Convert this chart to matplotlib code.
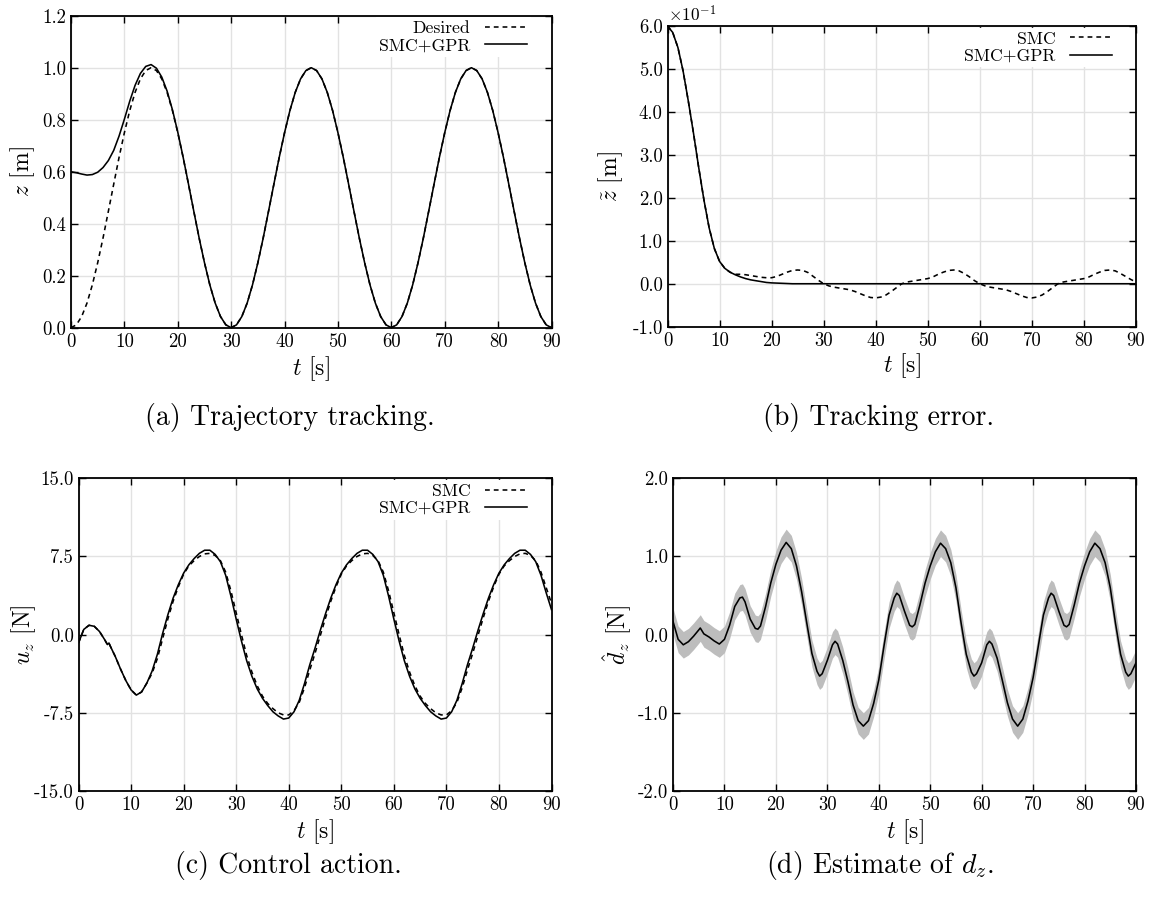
import numpy as np
import matplotlib
matplotlib.use("Agg")
import matplotlib.pyplot as plt

plt.rcParams['font.family'] = 'serif'
plt.rcParams['font.serif'] = ['cmr10']
plt.rcParams['mathtext.fontset'] = 'cm'
plt.rcParams['axes.unicode_minus'] = False

# time axis (s)
t_sec = list(range(0, 91))

# (a) trajectory tracking
z_des = [0.000, 0.011, 0.043, 0.095, 0.165, 0.250, 0.345, 0.448, 0.552, 0.655,
         0.750, 0.835, 0.905, 0.957, 0.989, 1.000, 0.989, 0.957, 0.905, 0.835,
         0.750, 0.655, 0.552, 0.448, 0.345, 0.250, 0.165, 0.095, 0.043, 0.011,
         0.000, 0.011, 0.043, 0.095, 0.165, 0.250, 0.345, 0.448, 0.552, 0.655,
         0.750, 0.835, 0.905, 0.957, 0.989, 1.000, 0.989, 0.957, 0.905, 0.835,
         0.750, 0.655, 0.552, 0.448, 0.345, 0.250, 0.165, 0.095, 0.043, 0.011,
         0.000, 0.011, 0.043, 0.095, 0.165, 0.250, 0.345, 0.448, 0.552, 0.655,
         0.750, 0.835, 0.905, 0.957, 0.989, 1.000, 0.989, 0.957, 0.905, 0.835,
         0.750, 0.655, 0.552, 0.448, 0.345, 0.250, 0.165, 0.095, 0.043, 0.011,
         0.000]
z_gpr = [0.600, 0.596, 0.591, 0.587, 0.589, 0.598, 0.616, 0.643, 0.682, 0.737,
         0.802, 0.871, 0.932, 0.978, 1.005, 1.012, 0.998, 0.964, 0.910, 0.838,
         0.752, 0.656, 0.553, 0.448, 0.345, 0.250, 0.165, 0.095, 0.043, 0.011,
         0.000, 0.011, 0.043, 0.095, 0.165, 0.250, 0.345, 0.448, 0.552, 0.655,
         0.750, 0.835, 0.905, 0.957, 0.989, 1.000, 0.989, 0.957, 0.905, 0.835,
         0.750, 0.655, 0.552, 0.448, 0.345, 0.250, 0.165, 0.095, 0.043, 0.011,
         0.000, 0.011, 0.043, 0.095, 0.165, 0.250, 0.345, 0.448, 0.552, 0.655,
         0.750, 0.835, 0.905, 0.957, 0.989, 1.000, 0.989, 0.957, 0.905, 0.835,
         0.750, 0.655, 0.552, 0.448, 0.345, 0.250, 0.165, 0.095, 0.043, 0.011,
         0.000]

# (b) tracking error, x1e-1 m
e_smc = [6.00, 5.85, 5.50, 4.95, 4.25, 3.50, 2.70, 1.95, 1.30, 0.82,
         0.52, 0.36, 0.27, 0.22, 0.22, 0.21, 0.19, 0.17, 0.15, 0.14,
         0.14, 0.17, 0.22, 0.27, 0.31, 0.32, 0.31, 0.26, 0.17, 0.08,
         0.00, -0.05, -0.08, -0.10, -0.12, -0.14, -0.18, -0.23, -0.28, -0.32,
         -0.33, -0.31, -0.26, -0.18, -0.09, 0.00, 0.04, 0.06, 0.08, 0.10,
         0.12, 0.16, 0.22, 0.27, 0.31, 0.32, 0.30, 0.24, 0.16, 0.07,
         0.00, -0.05, -0.08, -0.10, -0.12, -0.14, -0.18, -0.23, -0.28, -0.32,
         -0.33, -0.31, -0.26, -0.18, -0.09, 0.00, 0.04, 0.06, 0.08, 0.10,
         0.12, 0.16, 0.22, 0.27, 0.31, 0.32, 0.30, 0.24, 0.17, 0.10,
         0.04]
e_gpr = [6.00, 5.85, 5.50, 4.95, 4.25, 3.50, 2.70, 1.95, 1.30, 0.82,
         0.52, 0.36, 0.27, 0.21, 0.16, 0.12, 0.09, 0.07, 0.05, 0.03,
         0.02, 0.015, 0.01, 0.005, 0.0, 0.0, 0.0, 0.0, 0.0, 0.0,
         0.0, 0.0, 0.0, 0.0, 0.0, 0.0, 0.0, 0.0, 0.0, 0.0,
         0.0, 0.0, 0.0, 0.0, 0.0, 0.0, 0.0, 0.0, 0.0, 0.0,
         0.0, 0.0, 0.0, 0.0, 0.0, 0.0, 0.0, 0.0, 0.0, 0.0,
         0.0, 0.0, 0.0, 0.0, 0.0, 0.0, 0.0, 0.0, 0.0, 0.0,
         0.0, 0.0, 0.0, 0.0, 0.0, 0.0, 0.0, 0.0, 0.0, 0.0,
         0.0, 0.0, 0.0, 0.0, 0.0, 0.0, 0.0, 0.0, 0.0, 0.0,
         0.0]

# (c) control action (N)
t_u = [0, 1, 2, 3, 4, 5, 5.5, 5.8] + list(range(6, 91))
u_smc = [-0.8, 0.5, 0.9, 0.8, 0.3, -0.5, -0.95, -0.8,
         -1.05, -2.1, -3.3, -4.4, -5.3, -5.8, -5.5, -4.65, -3.7, -2.3,
         -0.4, 1.5, 3.2, 4.6, 5.8, 6.6, 7.1, 7.5, 7.75, 7.8,
         7.6, 7.1, 6.0, 4.2, 2.1, 0.0, -2.0, -3.6, -4.9, -5.9,
         -6.6, -7.1, -7.5, -7.7, -7.7, -7.3, -6.5, -5.1, -3.4, -1.8,
         -0.1, 1.6, 3.2, 4.6, 5.8, 6.6, 7.1, 7.5, 7.75, 7.8,
         7.6, 7.1, 6.0, 4.2, 2.1, 0.0, -2.0, -3.6, -4.9, -5.9,
         -6.6, -7.1, -7.5, -7.7, -7.7, -7.3, -6.5, -5.1, -3.4, -1.8,
         -0.1, 1.6, 3.2, 4.6, 5.8, 6.6, 7.1, 7.5, 7.75, 7.8,
         7.6, 7.1, 6.0, 4.5, 3.0]
u_gpr = [-0.8, 0.5, 0.9, 0.8, 0.3, -0.5, -0.95, -0.8,
         -1.05, -2.1, -3.3, -4.4, -5.3, -5.8, -5.5, -4.65, -3.5, -1.9,
         0.1, 1.9, 3.5, 4.8, 5.9, 6.7, 7.3, 7.8, 8.1, 8.1,
         7.7, 7.0, 5.7, 3.7, 1.5, -0.6, -2.5, -4.0, -5.2, -6.1,
         -6.8, -7.4, -7.8, -8.1, -8.0, -7.4, -6.3, -4.7, -2.9, -1.3,
         0.4, 2.0, 3.5, 4.8, 5.9, 6.7, 7.3, 7.8, 8.1, 8.1,
         7.7, 7.0, 5.7, 3.7, 1.5, -0.6, -2.5, -4.0, -5.2, -6.1,
         -6.8, -7.4, -7.8, -8.1, -8.0, -7.4, -6.3, -4.7, -2.9, -1.3,
         0.4, 2.0, 3.5, 4.8, 5.9, 6.7, 7.3, 7.8, 8.1, 8.1,
         7.7, 7.0, 5.7, 4.0, 2.4]

# (d) GPR estimate of d_z (N), with extra samples at the small extrema
t_d = [0, 1, 2, 3, 4, 5, 5.3, 6, 7, 8, 9,
       10, 11, 12, 13, 13.5, 14, 15, 16, 16.5, 17, 18, 19,
       20, 21, 22, 23, 24, 25, 26, 27, 28, 28.5, 29,
       30, 31, 31.5, 32, 33, 34, 35, 36, 37, 38, 39,
       40, 41, 42, 43, 43.5, 44, 45, 46, 46.5, 47, 48, 49,
       50, 51, 52, 53, 54, 55, 56, 57, 58, 58.5, 59,
       60, 61, 61.5, 62, 63, 64, 65, 66, 67, 68, 69,
       70, 71, 72, 73, 73.5, 74, 75, 76, 76.5, 77, 78, 79,
       80, 81, 82, 83, 84, 85, 86, 87, 88, 88.5, 89,
       90]
d_mean = [0.17, -0.06, -0.13, -0.09, -0.02, 0.06, 0.085, 0.01, -0.03, -0.08, -0.12,
          -0.06, 0.12, 0.36, 0.47, 0.48, 0.42, 0.20, 0.08, 0.07, 0.11, 0.36, 0.66,
          0.90, 1.08, 1.18, 1.10, 0.88, 0.55, 0.15, -0.24, -0.47, -0.53, -0.50,
          -0.33, -0.13, -0.085, -0.12, -0.33, -0.60, -0.90, -1.10, -1.17, -1.10, -0.88,
          -0.58, -0.15, 0.25, 0.47, 0.53, 0.50, 0.30, 0.12, 0.10, 0.13, 0.38, 0.66,
          0.88, 1.06, 1.17, 1.10, 0.92, 0.60, 0.15, -0.25, -0.48, -0.53, -0.50,
          -0.36, -0.13, -0.085, -0.12, -0.30, -0.58, -0.87, -1.08, -1.17, -1.08, -0.85,
          -0.55, -0.15, 0.25, 0.47, 0.53, 0.50, 0.30, 0.12, 0.10, 0.13, 0.38, 0.66,
          0.88, 1.06, 1.17, 1.10, 0.92, 0.60, 0.15, -0.25, -0.48, -0.53, -0.50,
          -0.36]
d_band = 0.17

x_ticks = [0, 10, 20, 30, 40, 50, 60, 70, 80, 90]

W, H = 1150, 899
fig = plt.figure(figsize=(W / 100, H / 100), dpi=100)


def make_ax(l, r, top, bot):
    return fig.add_axes([l / W, 1 - bot / H, (r - l) / W, (bot - top) / H])


def style(ax, yticks, ylabels, ylim, ylab, ylab_x):
    ax.set_xlim(0, 90)
    ax.set_ylim(*ylim)
    ax.set_xticks(x_ticks)
    ax.set_xticklabels([str(v) for v in x_ticks])
    ax.set_yticks(yticks)
    ax.set_yticklabels(ylabels)
    ax.grid(True, color='#e2e2e2', lw=1.0)
    ax.set_axisbelow(True)
    ax.tick_params(direction='in', top=True, right=True, length=5, width=1,
                   labelsize=13.5)
    ax.tick_params(axis='x', pad=4)
    ax.tick_params(axis='y', pad=3.5)
    for s in ax.spines.values():
        s.set_linewidth(1.3)
    ax.set_xlabel(r'$t$ [s]', fontsize=17)
    ax.xaxis.set_label_coords(0.5, -0.13)
    ax.xaxis.label.set_va('center')
    ax.set_ylabel(ylab, fontsize=17)
    ax.yaxis.set_label_coords(ylab_x, 0.5)
    ax.yaxis.label.set_va('center')


def legend(ax):
    ax.legend(loc='upper right', bbox_to_anchor=(0.96, 1.0), markerfirst=False,
              frameon=True, fancybox=False, edgecolor='none', framealpha=1,
              fontsize=12.7, handlelength=2.4, borderaxespad=0.1,
              labelspacing=0.1, handletextpad=0.8, borderpad=0.2)


dash = (3, 2.5)
lw = 1.15

ax = make_ax(71, 551.5, 15.7, 327.7)
ax.plot(t_sec, z_des, 'k', lw=lw, dashes=dash, label='Desired')
ax.plot(t_sec, z_gpr, 'k', lw=lw, label='SMC+GPR')
style(ax, [0, 0.2, 0.4, 0.6, 0.8, 1.0, 1.2],
      ['0.0', '0.2', '0.4', '0.6', '0.8', '1.0', '1.2'], (0, 1.2), r'$z$ [m]',
      -0.1)
legend(ax)

ax = make_ax(667.5, 1136, 26, 326.7)
ax.plot(t_sec, e_smc, 'k', lw=lw, dashes=dash, label='SMC')
ax.plot(t_sec, e_gpr, 'k', lw=lw, label='SMC+GPR')
style(ax, [-1, 0, 1, 2, 3, 4, 5, 6],
      ['-1.0', '0.0', '1.0', '2.0', '3.0', '4.0', '5.0', '6.0'], (-1, 6),
      r'$\tilde{z}$ [m]', -0.121)
ax.text(0.0, 1.005, r'$\times 10^{-1}$', transform=ax.transAxes, ha='left',
        va='bottom', fontsize=12.5)
legend(ax)

ax = make_ax(78.5, 551.5, 478.3, 791)
ax.plot(t_u, u_smc, 'k', lw=lw, dashes=dash, label='SMC')
ax.plot(t_u, u_gpr, 'k', lw=lw, label='SMC+GPR')
style(ax, [-15, -7.5, 0, 7.5, 15],
      ['-15.0', '-7.5', '0.0', '7.5', '15.0'], (-15, 15), r'$u_z$ [N]',
      -0.117)
legend(ax)

ax = make_ax(673, 1136, 478.3, 791)
lo = [m - d_band for m in d_mean]
hi = [m + d_band for m in d_mean]
ax.fill_between(t_d, lo, hi, color='#bdbdbd', lw=0)
ax.plot(t_d, d_mean, 'k', lw=lw)
style(ax, [-2, -1, 0, 1, 2], ['-2.0', '-1.0', '0.0', '1.0', '2.0'], (-2, 2),
      r'$\hat{d}_z$ [N]', -0.121)

captions = [(290, 418, '(a) Trajectory tracking.'),
            (878, 418, '(b) Tracking error.'),
            (288, 865, '(c) Control action.'),
            (880, 865, r'(d) Estimate of $d_z$.')]
for cx, cy, txt in captions:
    fig.text(cx / W, 1 - cy / H, txt, ha='center', va='center', fontsize=20)

fig.savefig('out.png', dpi=100)
